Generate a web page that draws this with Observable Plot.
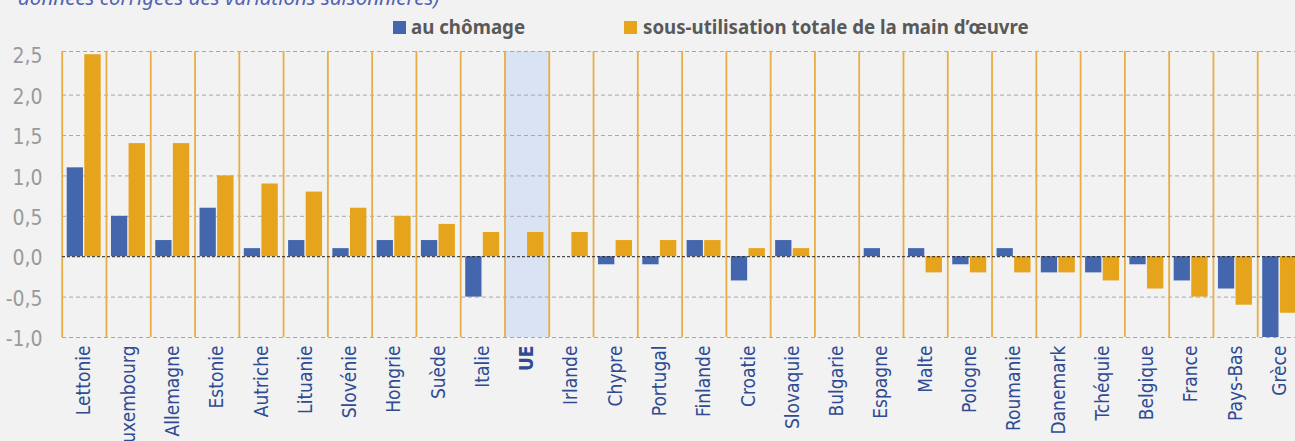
<!DOCTYPE html>
<html>
<head>
<meta charset="utf-8">
<script src="https://cdn.jsdelivr.net/npm/d3@7"></script>
<script src="https://cdn.jsdelivr.net/npm/@observablehq/plot@0.6"></script>
<style>
  html, body { margin: 0; padding: 0; background: #f2f2f2; }
  #wrap { position: relative; width: 1295px; height: 441px; overflow: hidden; background: #f2f2f2; }
  #title { position: absolute; left: 18px; top: -17px; font: italic 20.5px "Noto Sans", sans-serif; color: #5262b2; white-space: nowrap; }
  .leg { position: absolute; top: 14px; font: bold 18.7px "Noto Sans", sans-serif; color: #595959; white-space: nowrap; line-height: 26px; }
  .sw { position: absolute; top: 7px; width: 13px; height: 13px; }
  #chart { position: absolute; left: 0; top: 0; }
</style>
</head>
<body>
<div id="wrap">
  <div id="title">données corrigées des variations saisonnières)</div>
  <div class="leg" style="left:393px"><span class="sw" style="left:0;background:#4366ad"></span><span style="margin-left:18px">au chômage</span></div>
  <div class="leg" style="left:624px"><span class="sw" style="left:0;background:#e5a41c"></span><span style="margin-left:19px">sous-utilisation totale de la main d’œuvre</span></div>
  <div id="chart"></div>
</div>
<script>
const countries = ["Lettonie","Luxembourg","Allemagne","Estonie","Autriche","Lituanie","Slovénie","Hongrie","Suède","Italie","UE","Irlande","Chypre","Portugal","Finlande","Croatie","Slovaquie","Bulgarie","Espagne","Malte","Pologne","Roumanie","Danemark","Tchéquie","Belgique","France","Pays-Bas","Grèce"];
const chomage = [1.1,0.5,0.2,0.6,0.1,0.2,0.1,0.2,0.2,-0.5,0,0,-0.1,-0.1,0.2,-0.3,0.2,0,0.1,0.1,-0.1,0.1,-0.2,-0.2,-0.1,-0.3,-0.4,-1.0];
const sousUtilisation = [2.5,1.4,1.4,1.0,0.9,0.8,0.6,0.5,0.4,0.3,0.3,0.3,0.2,0.2,0.2,0.1,0.1,0,0,-0.2,-0.2,-0.2,-0.2,-0.3,-0.4,-0.5,-0.6,-0.7];
const yTicks = [-1, -0.5, 0, 0.5, 1, 1.5, 2, 2.5];
const highlight = ["UE"];

const data = countries.map((c, i) => ({country: c, chomage: chomage[i], sous: sousUtilisation[i]}));
const yTop = 2.54;
const x0 = 61.7, x1 = 1301.5;
const bw = (x1 - x0) / countries.length;
const fmt = d => d.toFixed(1).replace(".", ",");
const narrow = "'Liberation Sans Narrow', 'DejaVu Sans Condensed', sans-serif";

const chart = Plot.plot({
  width: 1295,
  height: 441,
  marginLeft: 62,
  marginRight: 0,
  marginTop: 51,
  marginBottom: 104,
  style: {background: "transparent"},
  x: {domain: countries, range: [x0, x1], padding: 0, round: false, axis: null},
  y: {domain: [-1, yTop], axis: null},
  marks: [
    Plot.barY(highlight, {x: d => d, y1: -1, y2: yTop, fill: "#d9e3f3"}),
    Plot.ruleY(yTicks.filter(d => d !== 0 && d !== 2.5).concat([yTop]), {stroke: "#a8a8a8", strokeWidth: 1, strokeDasharray: "4,3"}),
    Plot.ruleX(countries, {x: d => d, y1: -1, y2: yTop, dx: -bw / 2, stroke: "#e8ad45", strokeWidth: 1.8}),
    Plot.barY(data, {x: "country", y: "chomage", fill: "#4366ad", insetLeft: 5, insetRight: 23}),
    Plot.barY(data, {x: "country", y: "sous", fill: "#e5a41c", insetLeft: 22.6, insetRight: 5.3}),
    Plot.ruleY([0], {stroke: "#222", strokeWidth: 1, strokeDasharray: "3,2"}),
    Plot.axisY(yTicks, {tickSize: 0, tickPadding: 20, tickFormat: fmt, fontSize: 21, fill: "#9a9a9a", fontFamily: narrow, dy: 2}),
    Plot.text(countries.filter(c => !highlight.includes(c)), {x: d => d, frameAnchor: "bottom", dy: 8, rotate: -90, textAnchor: "end", lineAnchor: "middle", fontSize: 19, fill: "#2f4c92", fontFamily: narrow}),
    Plot.text(highlight, {x: d => d, frameAnchor: "bottom", dy: 8, rotate: -90, textAnchor: "end", lineAnchor: "middle", fontSize: 19, fontWeight: "bold", fill: "#2f4c92", fontFamily: narrow})
  ]
});
document.getElementById("chart").appendChild(chart);
</script>
</body>
</html>
